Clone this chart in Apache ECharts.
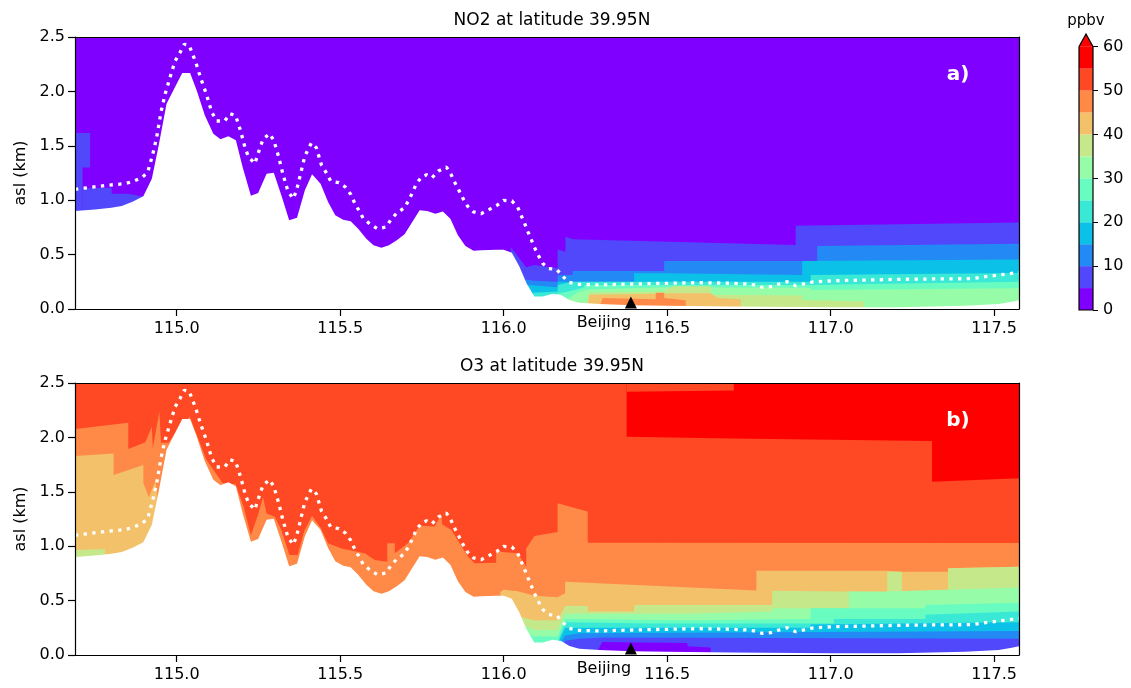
<!DOCTYPE html>
<html><head><meta charset="utf-8">
<script src="https://cdn.jsdelivr.net/npm/echarts@6/dist/echarts.min.js"></script>
<style>html,body{margin:0;padding:0;background:#fff}#c{width:1131px;height:688px}</style>
</head><body><div id="c"></div>
<script>
// ---------- data ----------
const levels = [0,5,10,15,20,25,30,35,40,45,50,55,60];
const colors = ['#8000ff','#5148fc','#238af5','#0cc1e8','#3ae8d6','#68fcc1','#97fca7','#c5e88a','#f3c16a','#ff8a48','#ff4824','#ff0000'];
const xTicks = [115.0,115.5,116.0,116.5,117.0,117.5];
const cbTicks = [0,10,20,30,40,50,60];
const lonMin = 114.689, lonMax = 117.576;
const altMin = 0, altMax = 2.5;
const beijing = [[116.389, 0.06]];

const terrain = [[114.689,0.90],[114.75,0.915],[114.80,0.93],[114.832,0.947],[114.865,0.985],[114.898,1.036],[114.924,1.198],[114.944,1.489],[114.969,1.887],[114.995,2.04],[115.017,2.169],[115.041,2.169],[115.061,2.01],[115.086,1.78],[115.112,1.611],[115.134,1.56],[115.158,1.587],[115.181,1.55],[115.202,1.30],[115.227,1.041],[115.249,1.066],[115.275,1.244],[115.297,1.253],[115.321,1.036],[115.344,0.815],[115.368,0.839],[115.392,1.091],[115.414,1.238],[115.440,1.152],[115.463,0.983],[115.485,0.861],[115.509,0.821],[115.532,0.806],[115.555,0.738],[115.580,0.646],[115.602,0.585],[115.626,0.564],[115.649,0.585],[115.673,0.631],[115.697,0.686],[115.719,0.793],[115.743,0.907],[115.766,0.901],[115.791,0.876],[115.814,0.895],[115.837,0.830],[115.860,0.677],[115.883,0.579],[115.908,0.536],[115.931,0.539],[115.955,0.542],[115.977,0.545],[116.000,0.545],[116.025,0.518],[116.048,0.39],[116.071,0.23],[116.094,0.115],[116.119,0.115],[116.150,0.14],[116.176,0.129],[116.201,0.083],[116.231,0.058],[116.293,0.045],[116.393,0.035],[116.496,0.029],[116.699,0.023],[117.004,0.017],[117.208,0.017],[117.412,0.029],[117.514,0.045],[117.554,0.067],[117.576,0.08]];

const pbl = [[114.689,1.10],[114.704,1.106],[114.786,1.137],[114.842,1.152],[114.867,1.174],[114.893,1.207],[114.911,1.253],[114.926,1.413],[114.939,1.581],[114.952,1.811],[114.965,1.979],[114.980,2.132],[114.995,2.279],[115.011,2.362],[115.023,2.433],[115.038,2.424],[115.058,2.270],[115.074,2.117],[115.092,1.964],[115.107,1.811],[115.122,1.728],[115.147,1.728],[115.163,1.795],[115.180,1.780],[115.195,1.642],[115.210,1.473],[115.220,1.397],[115.239,1.336],[115.247,1.413],[115.264,1.560],[115.284,1.611],[115.297,1.55],[115.312,1.397],[115.325,1.238],[115.340,1.085],[115.356,1.014],[115.366,1.085],[115.379,1.244],[115.392,1.406],[115.412,1.526],[115.427,1.483],[115.443,1.321],[115.458,1.25],[115.471,1.176],[115.496,1.161],[115.516,1.121],[115.532,1.054],[115.544,0.977],[115.557,0.907],[115.570,0.836],[115.590,0.784],[115.614,0.738],[115.640,0.753],[115.655,0.821],[115.673,0.882],[115.697,0.931],[115.712,1.014],[115.722,1.075],[115.733,1.152],[115.749,1.213],[115.764,1.234],[115.781,1.207],[115.800,1.268],[115.825,1.305],[115.839,1.238],[115.851,1.161],[115.863,1.091],[115.876,1.014],[115.890,0.944],[115.908,0.892],[115.931,0.876],[115.955,0.913],[115.980,0.953],[116.000,0.999],[116.025,0.993],[116.043,0.935],[116.053,0.864],[116.064,0.787],[116.074,0.711],[116.084,0.640],[116.094,0.567],[116.107,0.487],[116.119,0.42],[116.138,0.371],[116.162,0.364],[116.180,0.303],[116.199,0.245],[116.226,0.227],[116.293,0.221],[116.394,0.230],[116.496,0.236],[116.598,0.242],[116.700,0.236],[116.740,0.230],[116.766,0.221],[116.791,0.199],[116.817,0.205],[116.842,0.230],[116.867,0.251],[116.893,0.214],[116.918,0.230],[116.944,0.248],[117.005,0.260],[117.107,0.266],[117.209,0.273],[117.310,0.276],[117.432,0.279],[117.463,0.294],[117.514,0.312],[117.539,0.322],[117.576,0.335]];

// NO2: top height of the region where NO2 >= level (ground upward)
const no2_ge5 = [[114.689,1.618],[114.735,1.618],[114.735,1.11],[114.801,1.115],[114.801,1.06],[114.852,1.06],[114.852,1.05],[114.903,1.03],[114.91,0],[116.015,0],[116.022,0.57],[116.069,0.384],[116.069,0.40],[116.094,0.404],[116.165,0.374],[116.165,0.548],[116.189,0.527],[116.189,0.665],[116.211,0.64],[116.893,0.588],[116.893,0.766],[117.576,0.795]];
const no2_lt5_pocket = [[114.712,1.30],[114.735,1.30]];
const no2_ge5_under_pocket = [[114.712,1.11],[114.735,1.11]];
const no2_ge10 = [[116.05,0],[116.069,0.27],[116.094,0.26],[116.165,0.25],[116.165,0.31],[116.211,0.313],[116.211,0.349],[116.491,0.349],[116.491,0.441],[116.959,0.441],[116.959,0.579],[117.576,0.60]];
const no2_ge15 = [[116.06,0],[116.075,0.22],[116.165,0.20],[116.165,0.25],[116.399,0.251],[116.399,0.328],[116.491,0.328],[116.491,0.313],[116.913,0.313],[116.913,0.441],[117.576,0.455]];
const no2_ge20 = [[116.07,0],[116.09,0.15],[116.165,0.16],[116.165,0.22],[116.211,0.25],[116.939,0.251],[116.939,0.313],[117.576,0.33]];
const no2_ge25 = [[116.12,0],[116.165,0.14],[116.211,0.17],[116.247,0.20],[116.247,0.22],[116.939,0.22],[116.939,0.236],[117.576,0.25]];
const no2_ge30 = [[116.16,0],[116.20,0.10],[116.231,0.16],[116.262,0.18],[116.491,0.20],[116.939,0.195],[116.939,0.175],[117.576,0.19]];
const no2_ge35 = [[116.25,0],[116.262,0.15],[116.491,0.16],[116.516,0.21],[116.633,0.21],[116.633,0.13],[116.913,0.125],[116.913,0.083],[117.102,0.07],[117.102,0]];
const no2_ge40 = [[116.255,0],[116.262,0.13],[116.491,0.14],[116.516,0.144],[116.633,0.144],[116.654,0.10],[116.725,0.09],[116.725,0]];
const no2_ge45 = [[116.29,0],[116.303,0.10],[116.465,0.09],[116.465,0.15],[116.491,0.15],[116.491,0.10],[116.557,0.08],[116.557,0]];

// O3: red (>=55) block hanging from the top, and a 50-55 strip above it
const o3_ge55_bottom = [[116.376,2.007],[116.704,1.99],[117.31,1.967],[117.31,1.593],[117.576,1.624]];
const o3_topstrip_bottom = [[116.376,2.42],[116.704,2.43]];
// O3: top height of the region where O3 < level (ground upward)
const o3_lt50 = [[114.689,2.077],[114.852,2.135],[114.852,1.893],[114.904,1.955],[114.924,2.098],[114.927,1.90],[114.947,2.237],[114.952,1.95],[114.975,1.95],[115.0,2.06],[115.04,2.19],[115.09,1.80],[115.14,1.58],[115.18,1.57],[115.205,1.36],[115.227,1.10],[115.25,1.30],[115.264,1.45],[115.275,1.30],[115.30,1.27],[115.32,1.15],[115.345,0.92],[115.37,0.92],[115.39,1.14],[115.414,1.28],[115.44,1.17],[115.463,1.026],[115.504,0.98],[115.575,0.935],[115.606,0.874],[115.644,0.858],[115.644,1.026],[115.667,1.026],[115.667,0.935],[115.707,1.026],[115.743,1.189],[115.789,1.18],[115.809,1.287],[115.812,1.20],[115.840,1.149],[115.891,0.904],[115.911,0.843],[115.977,0.849],[115.977,0.951],[116.043,0.935],[116.069,0.812],[116.069,0.980],[116.094,1.094],[116.094,1.103],[116.165,1.13],[116.165,1.394],[116.257,1.32],[116.257,1.032],[117.576,1.03]];
const o3_lt45 = [[114.689,1.829],[114.807,1.853],[114.807,1.654],[114.898,1.746],[114.898,1.58],[114.915,1.45],[114.935,1.60],[114.945,1.35],[114.955,0],[115.98,0],[115.99,0.58],[116.0,0.60],[116.043,0.585],[116.094,0.545],[116.165,0.53],[116.188,0.567],[116.188,0.674],[116.773,0.592],[116.773,0.775],[117.173,0.775],[117.173,0.766],[117.218,0.766],[117.218,0.766],[117.359,0.766],[117.359,0.797],[117.576,0.811]];
const o3_lt40 = [[114.689,0.965],[114.781,0.975],[114.782,0],[116.0,0],[116.01,0.45],[116.05,0.35],[116.094,0.32],[116.165,0.32],[116.188,0.45],[116.257,0.45],[116.257,0.40],[116.399,0.40],[116.399,0.46],[116.821,0.46],[116.821,0.591],[117.173,0.58],[117.173,0.766],[117.218,0.766],[117.218,0.583],[117.359,0.583],[117.359,0.797],[117.576,0.811]];
const o3_lt35 = [[116.02,0],[116.04,0.30],[116.094,0.23],[116.165,0.23],[116.188,0.38],[116.562,0.38],[116.821,0.40],[116.821,0.43],[117.056,0.43],[117.056,0.583],[117.173,0.583],[117.173,0.60],[117.576,0.62]];
const o3_lt30 = [[116.06,0],[116.07,0.20],[116.094,0.17],[116.165,0.17],[116.188,0.33],[116.562,0.32],[116.562,0.33],[116.939,0.33],[116.939,0.43],[117.29,0.43],[117.29,0.46],[117.576,0.48]];
const o3_lt25 = [[116.08,0],[116.094,0.11],[116.165,0.12],[116.188,0.30],[116.445,0.29],[117.01,0.29],[117.01,0.33],[117.29,0.33],[117.29,0.37],[117.576,0.40]];
const o3_lt20 = [[116.12,0],[116.165,0.10],[116.188,0.25],[116.939,0.25],[116.939,0.28],[117.576,0.30]];
const o3_lt15 = [[116.15,0],[116.188,0.18],[116.231,0.20],[117.576,0.22]];
const o3_lt10 = [[116.17,0],[116.188,0.13],[116.231,0.15],[116.302,0.16],[117.576,0.15]];
const o3_lt5 = [[116.28,0],[116.302,0.12],[116.562,0.11],[116.562,0.08],[116.633,0.07],[116.633,0]];

// ---------- chart ----------
const FONT = 'DejaVu Sans';
const grids = [
  {left:75, top:37, width:944, height:272, show:true, backgroundColor:colors[0], borderWidth:0},
  {left:75, top:383, width:944, height:272, show:true, backgroundColor:colors[10], borderWidth:0},
  {left:1079, top:46.7, width:14, height:263.3}
];
const xAxes = [], yAxes = [];
[0,1].forEach(g => {
  xAxes.push({type:'value', gridIndex:g, min:lonMin, max:lonMax, position:'bottom', z:10,
    axisLine:{show:true, onZero:false, lineStyle:{color:'#000', width:1.2}},
    axisTick:{show:true, customValues:xTicks, length:7, lineStyle:{color:'#000', width:1.2}},
    axisLabel:{customValues:xTicks, formatter:v=>v.toFixed(1), fontSize:16, color:'#000', fontFamily:FONT, margin:12},
    splitLine:{show:false}});
  xAxes.push({type:'value', gridIndex:g, min:lonMin, max:lonMax, position:'top', z:10,
    axisLine:{show:true, onZero:false, lineStyle:{color:'#000', width:1.2}},
    axisTick:{show:false}, axisLabel:{show:false}, splitLine:{show:false}});
  yAxes.push({type:'value', gridIndex:g, min:altMin, max:altMax, interval:0.5, position:'left', z:10,
    name:'asl (km)', nameLocation:'middle', nameGap:46, nameTextStyle:{fontSize:16, color:'#000', fontFamily:FONT},
    axisLine:{show:true, onZero:false, lineStyle:{color:'#000', width:1.2}},
    axisTick:{show:true, length:7, lineStyle:{color:'#000', width:1.2}},
    axisLabel:{formatter:v=>v.toFixed(1), fontSize:16, color:'#000', fontFamily:FONT, margin:10},
    splitLine:{show:false}});
  yAxes.push({type:'value', gridIndex:g, min:altMin, max:altMax, position:'right', z:10,
    axisLine:{show:true, onZero:false, lineStyle:{color:'#000', width:1.2}},
    axisTick:{show:false}, axisLabel:{show:false}, splitLine:{show:false}});
});
xAxes.push({type:'category', gridIndex:2, data:['cb'], show:false, boundaryGap:true});
yAxes.push({type:'value', gridIndex:2, min:levels[0], max:levels[levels.length-1], interval:10, position:'right', z:10,
  axisLine:{show:false}, axisTick:{show:true, length:5, lineStyle:{color:'#000', width:1}},
  axisLabel:{fontSize:16, color:'#000', fontFamily:FONT, margin:10}, splitLine:{show:false}});

function area(data, color, g, origin) {
  return {type:'line', xAxisIndex:2*g, yAxisIndex:2*g, data:data, symbol:'none', silent:true,
    lineStyle:{width:0, opacity:0}, areaStyle:{color:color, opacity:1, origin:origin||'start'}, clip:true, animation:false};
}
const series = [];
// panel a (NO2)
series.push(area(no2_ge5, colors[1], 0));
series.push(area(no2_lt5_pocket, colors[0], 0));
series.push(area(no2_ge5_under_pocket, colors[1], 0));
[no2_ge10,no2_ge15,no2_ge20,no2_ge25,no2_ge30,no2_ge35,no2_ge40,no2_ge45].forEach((d,i)=>series.push(area(d, colors[i+2], 0)));
// panel b (O3)
series.push(area(o3_ge55_bottom, colors[11], 1, 'end'));
series.push(area(o3_topstrip_bottom, colors[10], 1, 'end'));
[o3_lt50,o3_lt45,o3_lt40,o3_lt35,o3_lt30,o3_lt25,o3_lt20,o3_lt15,o3_lt10,o3_lt5].forEach((d,i)=>series.push(area(d, colors[9-i], 1)));
[0,1].forEach(g => {
  series.push(area(terrain, '#ffffff', g));
  series.push({type:'line', xAxisIndex:2*g, yAxisIndex:2*g, data:pbl, symbol:'none', silent:true, clip:true, animation:false,
    lineStyle:{color:'#ffffff', width:3.3, type:[3.3,5.4], cap:'butt'}});
  series.push({type:'scatter', xAxisIndex:2*g, yAxisIndex:2*g, data:beijing, symbol:'triangle', symbolSize:[12,12], silent:true, animation:false,
    itemStyle:{color:'#000', opacity:1}, clip:false, z:5,
    label:{show:true, formatter:'Beijing', position:'bottom', distance:6, offset:[-27,0], fontSize:16, color:'#000', fontFamily:FONT}});
});
// colorbar
for (let i = 0; i < levels.length - 1; i++) {
  series.push({type:'bar', xAxisIndex:4, yAxisIndex:4, stack:'cb', data:[levels[i+1]-levels[i]], barWidth:'100%', silent:true, animation:false,
    itemStyle:{color:colors[i]}});
}
series.push({type:'custom', xAxisIndex:4, yAxisIndex:4, data:[[0, levels[levels.length-1]]], silent:true, animation:false, clip:false, z:6,
  renderItem:(params, api) => {
    const p0 = api.coord([0, levels[0]]);
    const p1 = api.coord([0, levels[levels.length-1]]);
    const w = api.size([1, 0])[0];
    const x0 = p0[0] - w/2, x1 = p0[0] + w/2, apexY = p1[1] - 12.7;
    return {type:'group', children:[
      {type:'polygon', shape:{points:[[x0,p1[1]],[x1,p1[1]],[p0[0],apexY]]}, style:{fill:colors[11], stroke:null}},
      {type:'polygon', shape:{points:[[x0,p0[1]],[x1,p0[1]],[x1,p1[1]],[p0[0],apexY],[x0,p1[1]]]}, style:{fill:null, stroke:'#000', lineWidth:1.2}}
    ]};
  }});

const chart = echarts.init(document.getElementById('c'), null, {renderer:'canvas'});
chart.setOption({
  animation:false,
  backgroundColor:'#ffffff',
  title:[
    {text:'NO2 at latitude 39.95N', left:547, top:7, textAlign:'center', textStyle:{fontSize:17, fontWeight:'normal', color:'#000', fontFamily:FONT}},
    {text:'O3 at latitude 39.95N', left:547, top:353, textAlign:'center', textStyle:{fontSize:17, fontWeight:'normal', color:'#000', fontFamily:FONT}}
  ],
  grid:grids, xAxis:xAxes, yAxis:yAxes, series:series,
  graphic:[
    {type:'text', x:958, y:75, z:20, style:{text:'a)', textAlign:'center', textVerticalAlign:'middle', font:'bold 20px "DejaVu Sans"', fill:'#ffffff'}},
    {type:'text', x:958, y:421, z:20, style:{text:'b)', textAlign:'center', textVerticalAlign:'middle', font:'bold 20px "DejaVu Sans"', fill:'#ffffff'}},
    {type:'text', x:1086, y:21, z:20, style:{text:'ppbv', textAlign:'center', textVerticalAlign:'middle', font:'15px "DejaVu Sans"', fill:'#000'}}
  ]
});
</script></body></html>
